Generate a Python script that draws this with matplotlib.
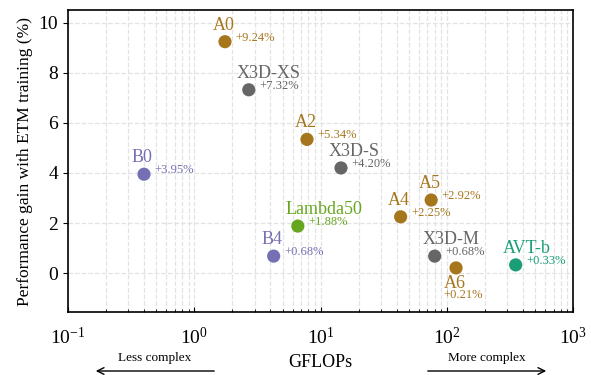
import matplotlib
matplotlib.use('Agg')
import matplotlib.pyplot as plt

# model names, compute cost and accuracy gain
names = ['A0', 'X3D-XS', 'A2', 'X3D-S', 'B0', 'Lambda50', 'B4',
         'A4', 'A5', 'X3D-M', 'A6', 'AVT-b']
gflops = [1.75, 2.7, 7.8, 14.5, 0.4, 6.6, 4.25, 43, 75, 80, 118, 350]
gains = [9.24, 7.32, 5.34, 4.20, 3.95, 1.88, 0.68, 2.25, 2.92, 0.68, 0.21, 0.33]
groups = ['movinet', 'x3d', 'movinet', 'x3d', 'b', 'lambda', 'b',
          'movinet', 'movinet', 'x3d', 'movinet', 'avt']

colors = {
    'movinet': '#a6761d',
    'x3d': '#666666',
    'b': '#7570b3',
    'lambda': '#66a61e',
    'avt': '#1b9e77',
}

plt.rcParams['font.family'] = ['Liberation Serif', 'DejaVu Serif']
plt.rcParams['mathtext.fontset'] = 'stix'

fig = plt.figure(figsize=(5.91, 3.75), dpi=100)
ax = fig.add_axes([0.115, 0.168, 0.855, 0.805])

for name, x, y, g in zip(names, gflops, gains, groups):
    c = colors[g]
    ax.scatter(x, y, s=90, color=c, zorder=3, edgecolors='none')
    if name == 'A6':
        # label sits below the point for A6
        ax.annotate(name, (x, y), xytext=(-9, -11), textcoords='offset points',
                    ha='left', va='center', fontsize=13, color=c)
        ax.annotate(f'+{y:.2f}%', (x, y), xytext=(-9, -19.5), textcoords='offset points',
                    ha='left', va='center', fontsize=9, color=c)
    else:
        ax.annotate(name, (x, y), xytext=(-9, 12), textcoords='offset points',
                    ha='left', va='center', fontsize=13, color=c)
        ax.annotate(f'+{y:.2f}%', (x, y), xytext=(7.5, 3), textcoords='offset points',
                    ha='left', va='center', fontsize=9, color=c)

ax.set_xscale('log')
ax.set_xlim(0.1, 1000)
ax.set_ylim(-1.55, 10.5)
ax.set_yticks([0, 2, 4, 6, 8, 10])

ax.grid(True, which='major', axis='both', linestyle='--', color='#e3e3e3', linewidth=0.9)
ax.grid(True, which='minor', axis='x', linestyle='--', color='#e3e3e3', linewidth=0.9)
ax.set_axisbelow(True)

ax.tick_params(axis='x', which='both', direction='in', labelsize=14, pad=11)
ax.tick_params(axis='y', which='both', direction='out', labelsize=14)
for s in ax.spines.values():
    s.set_linewidth(1.2)

ax.set_xlabel('GFLOPs', fontsize=13, labelpad=4)
ax.set_ylabel('Performance gain with ETM training (%)', fontsize=12.5)

# complexity arrows under the x axis
fig.text(155 / 591, 1 - 358 / 375, 'Less complex', ha='center', va='center', fontsize=9.5)
fig.text(487 / 591, 1 - 358 / 375, 'More complex', ha='center', va='center', fontsize=9.5)
fig.patches.append(matplotlib.patches.FancyArrowPatch(
    (217 / 591, 1 - 371 / 375), (93 / 591, 1 - 371 / 375), transform=fig.transFigure,
    arrowstyle='->', mutation_scale=12, linewidth=1.0, color='black'))
fig.patches.append(matplotlib.patches.FancyArrowPatch(
    (425 / 591, 1 - 371 / 375), (549 / 591, 1 - 371 / 375), transform=fig.transFigure,
    arrowstyle='->', mutation_scale=12, linewidth=1.0, color='black'))

fig.savefig('out.png', dpi=100)
